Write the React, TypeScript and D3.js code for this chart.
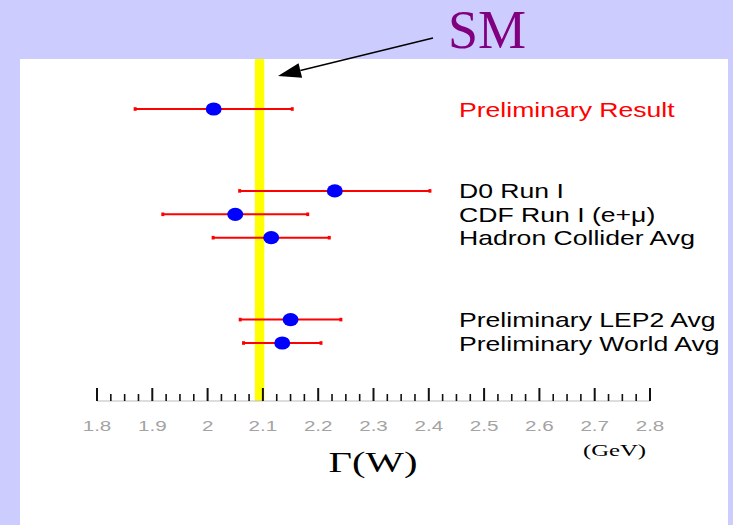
import React from "react";
import * as d3 from "d3";

// W width measurements (GeV)
const labels = [
  "Preliminary Result",
  "D0 Run I",
  "CDF Run I (e+\u03bc)",
  "Hadron Collider Avg",
  "Preliminary LEP2 Avg",
  "Preliminary World Avg",
];
const values = [2.011, 2.23, 2.05, 2.115, 2.15, 2.135];
const errors = [0.142, 0.172, 0.131, 0.105, 0.091, 0.07];
// row order, with gaps between groups
const rows = [0, 3.5, 4.5, 5.5, 9, 10];
const smValue = 2.094;
const axisMin = 1.8;
const axisMax = 2.8;

const W = 733;
const H = 525;

const App = () => {
  const x = d3.scaleLinear().domain([axisMin, axisMax]).range([97, 650]);
  const y = d3.scaleLinear().domain([0, 10]).range([109, 343]);
  const axisY = 401;

  const majorTicks = x.ticks(10);
  const minorTicks = d3.range(0, 41).map((i) => axisMin + i * 0.025);

  // arrow from SM label to the band
  const ax1 = 433, ay1 = 38, ax2 = 278, ay2 = 76;
  const ang = Math.atan2(ay2 - ay1, ax2 - ax1);
  const hl = 23, hw = 7.5;
  const bx = ax2 - hl * Math.cos(ang), by = ay2 - hl * Math.sin(ang);
  const head = [
    [ax2, ay2],
    [bx + hw * Math.sin(ang), by - hw * Math.cos(ang)],
    [bx - hw * Math.sin(ang), by + hw * Math.cos(ang)],
  ];

  const sans = "'Liberation Sans', Arial, Helvetica, sans-serif";
  const serif = "'Liberation Serif', 'Times New Roman', serif";

  return (
    <div style={{ position: "absolute", left: 0, top: 0 }}>
      <svg width={W} height={H} style={{ display: "block" }}>
        <rect x={0} y={0} width={W} height={H} fill="#ccccff" />
        <rect x={20} y={59} width={708} height={H - 59} fill="#ffffff" />

        {/* SM band */}
        <rect
          x={x(smValue) - 4.7}
          y={59}
          width={9.4}
          height={axisY - 59}
          fill="#ffff00"
        />

        {/* axis */}
        <line x1={x(axisMin)} x2={x(axisMax)} y1={axisY} y2={axisY} stroke="#bbbbbb" strokeWidth={1} />
        {minorTicks.map((t, i) => (
          <line
            key={"m" + i}
            x1={x(t)}
            x2={x(t)}
            y1={axisY}
            y2={i % 4 === 0 ? axisY - 13 : axisY - 7}
            stroke="#111"
            strokeWidth={i % 4 === 0 ? 2 : 1.6}
          />
        ))}
        {majorTicks.map((t, i) => (
          <text
            key={"t" + i}
            transform={`translate(${x(t)},431) scale(1.33,1)`}
            textAnchor="middle"
            fontFamily={sans}
            fontSize={15.5}
            fill="#a3a3a3"
          >
            {String(+t.toFixed(1))}
          </text>
        ))}
        <text
          transform="translate(373,472) scale(1.4,1)"
          textAnchor="middle"
          fontFamily={serif}
          fontSize={29}
          fill="#000"
        >
          {"\u0393(W)"}
        </text>
        <text
          transform="translate(614.5,456) scale(1.5,1)"
          textAnchor="middle"
          fontFamily={serif}
          fontSize={16.5}
          fill="#000"
        >
          (GeV)
        </text>

        {/* measurements */}
        {values.map((v, i) => {
          const cy = y(rows[i]);
          const lo = x(v - errors[i]);
          const hi = x(v + errors[i]);
          return (
            <g key={"p" + i}>
              <line x1={lo} x2={hi} y1={cy} y2={cy} stroke="#ff0000" strokeWidth={2} />
              <rect x={lo - 1.5} y={cy - 1.8} width={3} height={3.6} fill="#ff0000" />
              <rect x={hi - 1.5} y={cy - 1.8} width={3} height={3.6} fill="#ff0000" />
              <ellipse cx={x(v)} cy={cy} rx={8} ry={6.6} fill="#0000ff" />
              <text
                transform={`translate(459,${cy + 7.5}) scale(1.33,1)`}
                fontFamily={sans}
                fontSize={20}
                fill={i === 0 ? "#ff0000" : "#000000"}
              >
                {labels[i]}
              </text>
            </g>
          );
        })}

        {/* SM label and arrow */}
        <text x={448} y={48} fontFamily={serif} fontSize={54} fill="#800080">
          SM
        </text>
        <line x1={ax1} y1={ay1} x2={bx} y2={by} stroke="#000" strokeWidth={1.4} />
        <polygon points={head.map((p) => p.join(",")).join(" ")} fill="#000" />
      </svg>
    </div>
  );
};

export default App;
